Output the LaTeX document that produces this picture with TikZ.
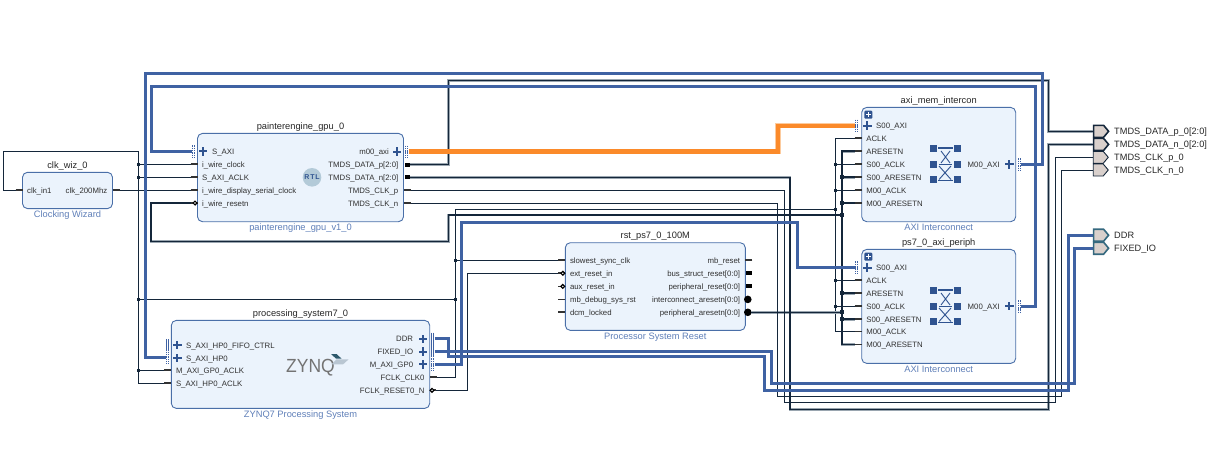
\documentclass[tikz,border=0pt]{standalone}
\usepackage{fontspec}
\setmainfont{Liberation Sans}
\usetikzlibrary{shapes.symbols}
\definecolor{blockfill}{HTML}{EBF3FC}
\definecolor{blockline}{HTML}{4A6FA8}
\definecolor{subtext}{HTML}{5F7FB8}
\definecolor{pintxt}{HTML}{303030}
\definecolor{netdark}{HTML}{14263A}
\definecolor{nethalo}{HTML}{9AA6B0}
\definecolor{busblue}{HTML}{3F62A3}
\definecolor{iconblue}{HTML}{2F5390}
\definecolor{hotpath}{HTML}{FB8A2A}
\definecolor{hothalo}{HTML}{FCCB9E}
\definecolor{portfill}{HTML}{D9D0CC}
\definecolor{portteal}{HTML}{35697F}
\definecolor{rtlbadge}{HTML}{B3CAD8}
\definecolor{logoslate}{HTML}{B9C6D2}
\tikzset{
  blockbox/.style={draw=blockline,fill=blockfill,line width=0.9pt,rounded corners=5pt},
  titletext/.style={inner sep=0pt,anchor=mid,yshift=-0.7pt,text=black!85,font=\fontsize{9.3}{10}\selectfont},
  subtitletext/.style={inner sep=0pt,anchor=mid,yshift=-0.7pt,text=subtext,font=\fontsize{9.3}{10}\selectfont},
  pintext/.style={inner sep=0pt,yshift=-0.7pt,text=pintxt,font=\fontsize{7.8}{9}\selectfont},
  porttext/.style={inner sep=0pt,anchor=mid west,yshift=-0.7pt,text=black!85,font=\fontsize{9.2}{10}\selectfont},
  stubline/.style={draw=black!80,line width=1.7pt},
  wire/.style={draw=netdark,line width=0.9pt},
  fatwire/.style={draw=netdark,line width=1.5pt,preaction={draw=nethalo,line width=2.6pt}},
  bus/.style={draw=busblue,line width=3pt},
  hotbus/.style={draw=hotpath,line width=4.2pt,preaction={draw=hothalo,line width=5.4pt}},
  thindot/.style={fill=netdark,inner sep=0pt,minimum size=3pt},
  fatdot/.style={fill=netdark,inner sep=0pt,minimum size=4pt},
  portshape/.style={signal,signal to=east,signal pointer angle=100,fill=portfill,inner sep=0pt,
    minimum width=15pt,minimum height=12pt,line width=0.9pt,draw=netdark},
  portbus/.style={portshape,line width=1.6pt},
  portio/.style={portshape,draw=portteal,line width=1.6pt},
}
% block outline with its title and type label
\newcommand{\blockbody}[7]{%
  \draw[blockbox] (#2,#3) rectangle (#4,#5);
  \node[titletext] (#1-title) at ({(#2+#4)/2},#3-7.5) {#6};
  \node[subtitletext] (#1-type) at ({(#2+#4)/2},#5+5.5) {#7};}
% plain pins: id, block edge x, y, text
\newcommand{\pinleft}[4]{%
  \coordinate (#1) at (#2-7,#3);
  \draw[stubline] (#1) -- ++(7,0);
  \node[pintext,anchor=mid west] (#1-t) at (#2+4.5,#3) {#4};}
\newcommand{\pinright}[4]{%
  \coordinate (#1) at (#2+7,#3);
  \draw[stubline] (#1) -- ++(-7,0);
  \node[pintext,anchor=mid east] (#1-t) at (#2-5,#3) {#4};}
% active-low input pin with its small open circle
\newcommand{\pinlow}[4]{%
  \pinleft{#1}{#2}{#3}{#4}
  \draw[draw=black,fill=white,line width=1.2pt] (#2-2.5,#3) circle (1.9);}
% vector output: heavy black stub
\newcommand{\pinvec}[4]{%
  \coordinate (#1) at (#2+6.5,#3);
  \fill[black] (#2+1,#3-2) rectangle (#2+6.5,#3+2);
  \node[pintext,anchor=mid east] (#1-t) at (#2-5,#3) {#4};}
% active-low vector output: solid round pin
\newcommand{\pindisc}[4]{%
  \coordinate (#1) at (#2+6,#3);
  \fill[black] (#2+2.5,#3) circle (3.8);
  \node[pintext,anchor=mid east] (#1-t) at (#2-5,#3) {#4};}
% interface pin: plus sign and connector bar
\newcommand{\plusmark}[2]{%
  \fill[iconblue] (#1-4.2,#2-1) rectangle (#1+4.2,#2+1);
  \fill[iconblue] (#1-1,#2-4.2) rectangle (#1+1,#2+4.2);}
\newcommand{\ifbar}[3]{%
  \draw[busblue,line width=0.8pt,#3] (#1-1.1,#2-6) -- (#1-1.1,#2+6);
  \draw[busblue,line width=0.8pt,#3] (#1+1.1,#2-6) -- (#1+1.1,#2+6);}
% expand marker on hierarchical blocks
\newcommand{\expandbox}[2]{%
  \fill[iconblue,rounded corners=1pt] (#1-4,#2-4) rectangle (#1+4,#2+4);
  \fill[white] (#1-2.6,#2-0.5) rectangle (#1+2.6,#2+0.5);
  \fill[white] (#1-0.5,#2-2.6) rectangle (#1+0.5,#2+2.6);}
% crossbar symbol of the interconnects
\newcommand{\xbaricon}[1]{%
  \foreach \sy in {148.4,164.4,179.6}{
    \fill[iconblue] (930,\sy+#1-3.5) rectangle (937,\sy+#1+3.5);
    \fill[iconblue] (954,\sy+#1-3.5) rectangle (961,\sy+#1+3.5);}
  \draw[iconblue,line width=1.1pt] (938,148+#1) -- (953,148+#1);
  \draw[iconblue,line width=1.1pt] (939,164.6+#1) -- (952,164.6+#1);
  \draw[iconblue,line width=1.1pt] (938,180.4+#1) -- (953,180.4+#1);
  \draw[iconblue,line width=0.9pt] (941,151+#1) -- (950,163+#1) (950,151+#1) -- (941,163+#1)
    (939,179.5+#1) -- (951,166+#1) (951,179.5+#1) -- (939,166+#1);}
\begin{document}
\begin{tikzpicture}[x=1pt,y=-1pt]
\useasboundingbox (0,0) rectangle (1212,463);

% ---- clocking wizard ----
\blockbody{wiz}{22.5}{172.3}{112.5}{208.6}{clk\_wiz\_0}{Clocking Wizard}
\pinleft{wiz-in}{22.5}{190.3}{clk\_in1}
\pinright{wiz-out}{112.5}{190.3}{clk\_200Mhz}

% ---- GPU ----
\blockbody{gpu}{197.5}{133.4}{403.5}{221.7}{painterengine\_gpu\_0}{painterengine\_gpu\_v1\_0}
\coordinate (gpu-saxi) at (191.5,151.3);
\ifbar{193}{151.3}{dash pattern=on 1.5pt off 0.8pt}
\plusmark{202.7}{151.3}
\node[pintext,anchor=mid west] (gpu-saxi-t) at (212,151.3) {S\_AXI};
\pinleft{gpu-clk}{197.5}{164.3}{i\_wire\_clock}
\pinleft{gpu-aclk}{197.5}{177.3}{S\_AXI\_ACLK}
\pinleft{gpu-serial}{197.5}{190.3}{i\_wire\_display\_serial\_clock}
\pinlow{gpu-rstn}{197.5}{203}{i\_wire\_resetn}
\coordinate (gpu-m00) at (409,151.5);
\ifbar{406.7}{151.5}{dash pattern=on 1.5pt off 0.8pt}
\plusmark{396.7}{151.5}
\node[pintext,anchor=mid east] (gpu-m00-t) at (389,151.3) {m00\_axi};
\pinvec{gpu-dp}{403.5}{164.5}{TMDS\_DATA\_p[2:0]}
\pinvec{gpu-dn}{403.5}{177.3}{TMDS\_DATA\_n[2:0]}
\pinright{gpu-cp}{403.5}{190.3}{TMDS\_CLK\_p}
\pinright{gpu-cn}{403.5}{203}{TMDS\_CLK\_n}
\fill[rtlbadge] (312,177.3) circle (9.3);
\node[inner sep=0pt,text=iconblue,font=\fontsize{7}{8}\bfseries\selectfont] (gpu-rtl) at (312,177.5) {R\kern0.8pt T\kern0.8pt L};

% ---- Zynq processing system ----
\blockbody{ps}{171.3}{320.4}{429.7}{408.4}{processing\_system7\_0}{ZYNQ7 Processing System}
\ifbar{167.5}{345}{}
\plusmark{177.3}{345}
\node[pintext,anchor=mid west] (ps-fifo-t) at (186,345) {S\_AXI\_HP0\_FIFO\_CTRL};
\coordinate (ps-hp0) at (165.5,357.6);
\ifbar{167.5}{357.6}{dash pattern=on 1.5pt off 0.8pt}
\plusmark{177.3}{357.8}
\node[pintext,anchor=mid west] (ps-hp0-t) at (186,358) {S\_AXI\_HP0};
\pinleft{ps-gpclk}{171.3}{370.2}{M\_AXI\_GP0\_ACLK}
\pinleft{ps-hpclk}{171.3}{383}{S\_AXI\_HP0\_ACLK}
\coordinate (ps-ddr) at (434.7,338.5);
\ifbar{432.7}{338.5}{}
\plusmark{422.7}{339}
\node[pintext,anchor=mid east] (ps-ddr-t) at (413.3,338.3) {DDR};
\coordinate (ps-fio) at (434.7,351.2);
\ifbar{432.7}{351.2}{}
\plusmark{422.7}{351.6}
\node[pintext,anchor=mid east] (ps-fio-t) at (413.3,351.2) {FIXED\_IO};
\coordinate (ps-gp0) at (434.7,364.4);
\ifbar{432.7}{364.4}{dash pattern=on 1.5pt off 0.8pt}
\plusmark{422.7}{364.4}
\node[pintext,anchor=mid east] (ps-gp0-t) at (413.3,364.2) {M\_AXI\_GP0};
\pinright{ps-fclk}{429.7}{377.2}{FCLK\_CLK0}
\coordinate (ps-frst) at (436,390.3);
\draw[stubline] (429.7,390.3) -- (ps-frst);
\draw[draw=black,fill=white,line width=1.2pt] (432,390.3) circle (1.9);
\node[pintext,anchor=mid east] (ps-frst-t) at (424.7,390.3) {FCLK\_RESET0\_N};
\node[inner sep=0pt,anchor=base west,text=black!55!white,font=\fontsize{19}{20}\selectfont,xscale=0.92] (ps-logo) at (286,372.7) {ZYNQ};
\fill[portteal!85!black] (331,354) -- (336.5,354) -- (341.5,358.6) -- (336,358.6) -- cycle;
\fill[logoslate] (336.5,359.4) -- (348.5,359.4) -- (343,364.4) -- (331.5,364.4) -- cycle;

% ---- processor system reset ----
\blockbody{rst}{565.3}{242.7}{745.3}{330.4}{rst\_ps7\_0\_100M}{Processor System Reset}
\pinleft{rst-slow}{565.3}{260.3}{slowest\_sync\_clk}
\pinlow{rst-ext}{565.3}{273.3}{ext\_reset\_in}
\pinlow{rst-aux}{565.3}{286.4}{aux\_reset\_in}
\pinleft{rst-dbg}{565.3}{299.4}{mb\_debug\_sys\_rst}
\pinleft{rst-dcm}{565.3}{312.3}{dcm\_locked}
\pinright{rst-mb}{745.3}{260.3}{mb\_reset}
\pinvec{rst-bus}{745.3}{273.3}{bus\_struct\_reset[0:0]}
\pinvec{rst-per}{745.3}{286.4}{peripheral\_reset[0:0]}
\pindisc{rst-ic}{745.3}{299.4}{interconnect\_aresetn[0:0]}
\pindisc{rst-pa}{745.3}{312.3}{peripheral\_aresetn[0:0]}

% ---- memory interconnect ----
\blockbody{mem}{861.7}{107.4}{1015.7}{221.7}{axi\_mem\_intercon}{AXI Interconnect}
\expandbox{868.4}{114.7}
\coordinate (mem-s00) at (854.5,125.6);
\ifbar{856.7}{125.5}{dash pattern=on 1.5pt off 0.8pt}
\plusmark{867.3}{125.6}
\node[pintext,anchor=mid west] (mem-s00-t) at (876,125.3) {S00\_AXI};
\pinleft{mem-aclk}{861.7}{138.2}{ACLK}
\pinleft{mem-arst}{861.7}{151.2}{ARESETN}
\pinleft{mem-sclk}{861.7}{164.3}{S00\_ACLK}
\pinleft{mem-srst}{861.7}{177.2}{S00\_ARESETN}
\pinleft{mem-mclk}{861.7}{190.2}{M00\_ACLK}
\pinleft{mem-mrst}{861.7}{202.8}{M00\_ARESETN}
\coordinate (mem-m00) at (1021,164.3);
\ifbar{1019}{164.3}{dash pattern=on 1.5pt off 0.8pt}
\plusmark{1009.3}{164.3}
\node[pintext,anchor=mid east] (mem-m00-t) at (1000,164.3) {M00\_AXI};
\xbaricon{0}

% ---- peripheral interconnect ----
\blockbody{per}{861.7}{249.4}{1015.7}{363.4}{ps7\_0\_axi\_periph}{AXI Interconnect}
\expandbox{868.4}{256.7}
\coordinate (per-s00) at (854.5,267.4);
\ifbar{856.7}{267.4}{dash pattern=on 1.5pt off 0.8pt}
\plusmark{867.3}{267.6}
\node[pintext,anchor=mid west] (per-s00-t) at (876,267.3) {S00\_AXI};
\pinleft{per-aclk}{861.7}{280.3}{ACLK}
\pinleft{per-arst}{861.7}{293.2}{ARESETN}
\pinleft{per-sclk}{861.7}{306.2}{S00\_ACLK}
\pinleft{per-srst}{861.7}{319.2}{S00\_ARESETN}
\pinleft{per-mclk}{861.7}{331.6}{M00\_ACLK}
\pinleft{per-mrst}{861.7}{344.5}{M00\_ARESETN}
\coordinate (per-m00) at (1021,306.2);
\ifbar{1019}{306.2}{dash pattern=on 1.5pt off 0.8pt}
\plusmark{1009.3}{306.2}
\node[pintext,anchor=mid east] (per-m00-t) at (1000,306.2) {M00\_AXI};
\xbaricon{142}

% ---- external ports ----
\node[portbus,anchor=west] (p-dp) at (1092.8,131.3) {};
\node[portbus,anchor=west] (p-dn) at (1092.8,144.4) {};
\node[portshape,anchor=west] (p-cp) at (1092.8,157.3) {};
\node[portshape,anchor=west] (p-cn) at (1092.8,170) {};
\node[portio,anchor=west] (p-ddr) at (1092.8,235.2) {};
\node[portio,anchor=west] (p-fio) at (1092.8,248.2) {};
\node[porttext] (p-dp-t) at (1114,131.3) {TMDS\_DATA\_p\_0[2:0]};
\node[porttext] (p-dn-t) at (1114,144.4) {TMDS\_DATA\_n\_0[2:0]};
\node[porttext] (p-cp-t) at (1114,157.3) {TMDS\_CLK\_p\_0};
\node[porttext] (p-cn-t) at (1114,170) {TMDS\_CLK\_n\_0};
\node[porttext] (p-ddr-t) at (1114,235.2) {DDR};
\node[porttext] (p-fio-t) at (1114,248.2) {FIXED\_IO};

% ---- junction dots ----
\foreach \id/\px/\py in {a/138.5/164.3,b/138.5/177.3,c/138.5/299,d/138.5/370.2,
  e/455.5/299,f/455.5/260.3,g/835.3/164.3,h/835.3/190.2,i/835.3/209.3,
  j/835.3/280.3,k/835.3/306.2}
  \node[thindot] (jc\id) at (\px,\py) {};
\foreach \id/\px/\py in {a/842/177.2,b/842/202.8,c/842/215,d/842/293.2,e/842/312.3,f/842/319.2}
  \node[fatdot] (jr\id) at (\px,\py) {};

% ---- clock nets ----
\draw[wire] (wiz-in) -| (3.5,151.3) -| (138.5,383) -- (ps-hpclk);
\draw[wire] (wiz-out) -- (gpu-serial);
\draw[wire] (jca) -- (gpu-clk);
\draw[wire] (jcb) -- (gpu-aclk);
\draw[wire] (jcd) -- (ps-gpclk);
\draw[wire] (jcc) -- (jce);
\draw[wire] (ps-fclk) -| (455.5,209.3) -- (jci);
\draw[wire] (jcf) -- (rst-slow);
\draw[wire] (mem-aclk) -| (835.3,331.6) -- (per-mclk);
\draw[wire] (jcg) -- (mem-sclk);
\draw[wire] (jch) -- (mem-mclk);
\draw[wire] (jcj) -- (per-aclk);
\draw[wire] (jck) -- (per-sclk);
\draw[wire] (ps-frst) -| (467.3,273.3) -- (rst-ext);

% ---- reset nets ----
\draw[fatwire] (mem-arst) -| (842,344.5) -- (per-mrst);
\draw[fatwire] (jra) -- (mem-srst);
\draw[fatwire] (jrb) -- (mem-mrst);
\draw[fatwire] (jrd) -- (per-arst);
\draw[fatwire] (jrf) -- (per-srst);
\draw[fatwire] (rst-pa) -- (jre);
\draw[fatwire] (gpu-rstn) -| (151,241.7) -| (448.3,215) -- (jrc);

% ---- video outputs ----
\draw[fatwire] (gpu-dp) -| (448.5,80.5) -| (1048.6,131.3) -- (p-dp.west);
\draw[fatwire] (gpu-dn) -| (790,409.3) -| (1048.6,144.4) -- (p-dn.west);
\draw[wire] (gpu-cp) -| (784.3,402.3) -| (1055.3,157.3) -- (p-cp.west);
\draw[wire] (gpu-cn) -| (777.5,396.3) -| (1061.3,170) -- (p-cn.west);

% ---- AXI buses ----
\draw[bus] (ps-hp0) -| (145.5,73) -| (1042.5,164.3) -- (mem-m00);
\draw[bus] (gpu-saxi) -| (151.5,86.3) -| (1035,306.2) -- (per-m00);
\draw[bus] (ps-gp0) -| (461.7,222.7) -| (797.3,267.4) -- (per-s00);
\draw[bus] (ps-ddr) -| (448.7,356.7) -| (764.3,390.3) -| (1068.3,235.2) -- (p-ddr.west);
\draw[bus] (ps-fio) -| (771.7,383.7) -| (1074.3,248.2) -- (p-fio.west);
\draw[hotbus] (gpu-m00) -| (778,125.6) -- (mem-s00);
\end{tikzpicture}
\end{document}
